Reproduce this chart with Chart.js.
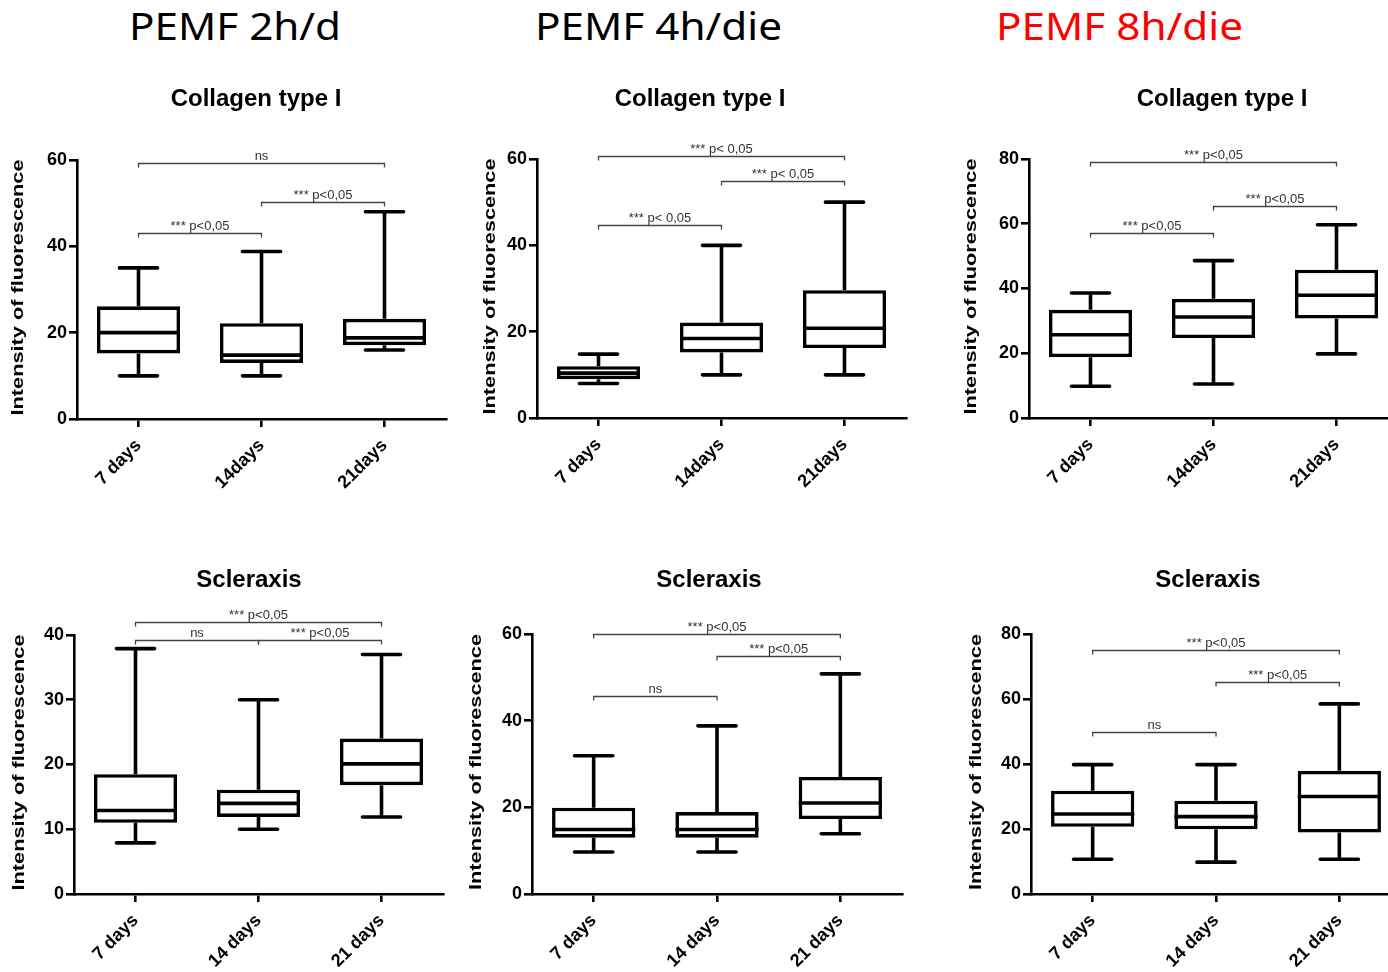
<!DOCTYPE html>
<html>
<head>
<meta charset="utf-8">
<title>PEMF box plots</title>
<script src="https://cdn.jsdelivr.net/npm/chart.js@4.4.0/dist/chart.umd.min.js"></script>
<style>
  html, body { margin: 0; padding: 0; background: #fff; overflow: hidden; }
  body { width: 1388px; height: 972px; position: relative; }
  canvas { position: absolute; }
  .head { position: absolute; top: 6px; font-family: 'Noto Sans', sans-serif; font-size: 38px;
          line-height: 38px; white-space: nowrap; color: #000; transform-origin: 0 0; }
</style>
</head>
<body>
<div class="head" id="h1" style="left:129px">PEMF 2h/d</div>
<div class="head" id="h2" style="left:535px">PEMF 4h/die</div>
<div class="head" id="h3" style="left:996px; color:#ff0000">PEMF 8h/die</div>

<canvas id="c1" width="460" height="440" style="left:0px;top:60px"></canvas>
<canvas id="c2" width="460" height="440" style="left:460px;top:60px"></canvas>
<canvas id="c3" width="500" height="440" style="left:920px;top:60px"></canvas>
<canvas id="c4" width="460" height="432" style="left:0px;top:540px"></canvas>
<canvas id="c5" width="460" height="432" style="left:460px;top:540px"></canvas>
<canvas id="c6" width="500" height="432" style="left:920px;top:540px"></canvas>

<script>
/* ================================================
   DATA
================================================ */
const daysA = ['7 days', '14days', '21days'];
const daysB = ['7 days', '14 days', '21 days'];

// Collagen type I — PEMF 2h/d
const col2hMin = [10, 10, 16];
const col2hQ1  = [15.2, 13, 17.1];
const col2hMed = [20, 14.8, 18.8];
const col2hQ3  = [26.1, 22.2, 23.2];
const col2hMax = [35, 38.8, 48];
const col2hSig = [
  { from: 0, to: 2, y: 59.4, label: 'ns' },
  { from: 0, to: 1, y: 43,   label: '*** p<0,05' },
  { from: 1, to: 2, y: 50.3, label: '*** p<0,05' },
];

// Collagen type I — PEMF 4h/die
const col4hMin = [8, 10, 10];
const col4hQ1  = [9, 15.2, 16.2];
const col4hMed = [10.4, 18.4, 20.8];
const col4hQ3  = [12, 22.1, 29.6];
const col4hMax = [14.8, 40, 50];
const col4hSig = [
  { from: 0, to: 2, y: 60.8, label: '*** p< 0,05' },
  { from: 1, to: 2, y: 55,   label: '*** p< 0,05' },
  { from: 0, to: 1, y: 44.8, label: '*** p< 0,05' },
];

// Collagen type I — PEMF 8h/die
const col8hMin = [9.8, 10.5, 19.8];
const col8hQ1  = [18.8, 24.7, 30.7];
const col8hMed = [25.7, 31.2, 37.9];
const col8hQ3  = [33.4, 36.8, 45.8];
const col8hMax = [38.6, 48.6, 59.7];
const col8hSig = [
  { from: 0, to: 2, y: 79.1, label: '*** p<0,05' },
  { from: 1, to: 2, y: 65.6, label: '*** p<0,05' },
  { from: 0, to: 1, y: 57.1, label: '*** p<0,05' },
];

// Scleraxis — PEMF 2h/d
const scx2hMin = [7.9, 10, 11.9];
const scx2hQ1  = [11, 11.9, 16.8];
const scx2hMed = [12.9, 14, 20.1];
const scx2hQ3  = [18.5, 16.1, 24];
const scx2hMax = [37.9, 30, 37];
const scx2hSig = [
  { from: 0, to: 2, y: 42,   label: '*** p<0,05' },
  { from: 0, to: 1, y: 39.2, label: 'ns' },
  { from: 1, to: 2, y: 39.2, label: '*** p<0,05' },
];

// Scleraxis — PEMF 4h/die
const scx4hMin = [9.7, 9.7, 13.9];
const scx4hQ1  = [13, 13, 17.3];
const scx4hMed = [14.9, 14.9, 21];
const scx4hQ3  = [19.9, 18.9, 27];
const scx4hMax = [31.9, 38.8, 50.8];
const scx4hSig = [
  { from: 0, to: 2, y: 60,   label: '*** p<0,05' },
  { from: 1, to: 2, y: 55,   label: '*** p<0,05' },
  { from: 0, to: 1, y: 45.7, label: 'ns' },
];

// Scleraxis — PEMF 8h/die
const scx8hMin = [10.7, 9.8, 10.7];
const scx8hQ1  = [20.7, 19.9, 18.9];
const scx8hMed = [24.6, 23.8, 30];
const scx8hQ3  = [31.8, 28.7, 37.9];
const scx8hMax = [39.8, 39.8, 58.5];
const scx8hSig = [
  { from: 0, to: 2, y: 75.2, label: '*** p<0,05' },
  { from: 1, to: 2, y: 65.3, label: '*** p<0,05' },
  { from: 0, to: 1, y: 49.7, label: 'ns' },
];

/* ================================================
   LAYOUT (page pixels)
================================================ */
const panels = [
  { canvas: 'c1', left: 0,   top: 60,  area: [77, 446, 160, 419],   yMax: 60, step: 20,
    title: 'Collagen type I', titleX: 256, titleY: 106, ylabX: 18.5,
    labels: daysA, min: col2hMin, q1: col2hQ1, med: col2hMed, q3: col2hQ3, max: col2hMax, sig: col2hSig },
  { canvas: 'c2', left: 460, top: 60,  area: [537, 906, 159, 418],  yMax: 60, step: 20,
    title: 'Collagen type I', titleX: 700, titleY: 106, ylabX: 490,
    labels: daysA, min: col4hMin, q1: col4hQ1, med: col4hMed, q3: col4hQ3, max: col4hMax, sig: col4hSig },
  { canvas: 'c3', left: 920, top: 60,  area: [1029, 1398, 159, 418], yMax: 80, step: 20,
    title: 'Collagen type I', titleX: 1222, titleY: 106, ylabX: 971,
    labels: daysA, min: col8hMin, q1: col8hQ1, med: col8hMed, q3: col8hQ3, max: col8hMax, sig: col8hSig },
  { canvas: 'c4', left: 0,   top: 540, area: [74, 443, 635, 894],   yMax: 40, step: 10,
    title: 'Scleraxis', titleX: 249, titleY: 587, ylabX: 19,
    labels: daysB, min: scx2hMin, q1: scx2hQ1, med: scx2hMed, q3: scx2hQ3, max: scx2hMax, sig: scx2hSig },
  { canvas: 'c5', left: 460, top: 540, area: [532, 902, 634, 894],  yMax: 60, step: 20,
    title: 'Scleraxis', titleX: 709, titleY: 587, ylabX: 476,
    labels: daysB, min: scx4hMin, q1: scx4hQ1, med: scx4hMed, q3: scx4hQ3, max: scx4hMax, sig: scx4hSig },
  { canvas: 'c6', left: 920, top: 540, area: [1031, 1401, 634, 894], yMax: 80, step: 20,
    title: 'Scleraxis', titleX: 1208, titleY: 587, ylabX: 976,
    labels: daysB, min: scx8hMin, q1: scx8hQ1, med: scx8hMed, q3: scx8hQ3, max: scx8hMax, sig: scx8hSig },
];

const FONT   = "'Liberation Sans', Arial, sans-serif";
const LW     = 3.6;   // box / whisker stroke
const AXIS_W = 2.6;
const Y_LABEL = 'Intensity of fluorescence';

/* ================================================
   BOX-PLOT PLUGIN
================================================ */
function boxPlugin(p) {
  return {
    id: 'box_' + p.canvas,
    beforeDatasetsDraw(chart) {
      const { ctx, scales: { x, y } } = chart;
      const capW = (x.getPixelForValue(1) - x.getPixelForValue(0)) * 0.31;
      ctx.save();
      ctx.strokeStyle = '#000';
      ctx.lineWidth = LW;
      p.labels.forEach((_, i) => {
        const xc = x.getPixelForValue(i);
        ctx.lineCap = 'butt';
        ctx.beginPath();
        ctx.moveTo(xc, y.getPixelForValue(p.q3[i]));
        ctx.lineTo(xc, y.getPixelForValue(p.max[i]));
        ctx.moveTo(xc, y.getPixelForValue(p.q1[i]));
        ctx.lineTo(xc, y.getPixelForValue(p.min[i]));
        ctx.stroke();
        ctx.lineCap = 'round';
        ctx.beginPath();
        [p.max[i], p.min[i]].forEach(v => {
          const yy = y.getPixelForValue(v);
          ctx.moveTo(xc - capW / 2, yy);
          ctx.lineTo(xc + capW / 2, yy);
        });
        ctx.stroke();
      });
      ctx.restore();
    },
    afterDatasetsDraw(chart) {
      const { ctx, scales: { y } } = chart;
      const meta = chart.getDatasetMeta(0);
      ctx.save();
      ctx.strokeStyle = '#000';
      ctx.lineWidth = LW;
      meta.data.forEach((bar, i) => {
        const yy = y.getPixelForValue(p.med[i]);
        ctx.beginPath();
        ctx.moveTo(bar.x - bar.width / 2, yy);
        ctx.lineTo(bar.x + bar.width / 2, yy);
        ctx.stroke();
      });
      ctx.restore();
    },
    afterDraw(chart) {
      const { ctx, chartArea, scales: { x, y } } = chart;
      ctx.save();

      // significance brackets
      ctx.strokeStyle = '#444';
      ctx.lineWidth = 1.3;
      ctx.fillStyle = '#333';
      ctx.font = '13px ' + FONT;
      ctx.textAlign = 'center';
      ctx.textBaseline = 'alphabetic';
      p.sig.forEach(b => {
        const x1 = x.getPixelForValue(b.from);
        const x2 = x.getPixelForValue(b.to);
        const yy = Math.round(y.getPixelForValue(b.y)) + 0.5;
        ctx.beginPath();
        ctx.moveTo(x1, yy + 4);
        ctx.lineTo(x1, yy);
        ctx.lineTo(x2, yy);
        ctx.lineTo(x2, yy + 4);
        ctx.stroke();
        ctx.fillText(b.label, (x1 + x2) / 2, yy - 4);
      });

      // panel title
      ctx.fillStyle = '#000';
      ctx.font = 'bold 24px ' + FONT;
      ctx.fillText(p.title, p.titleX - p.left, p.titleY - p.top);

      // y-axis label (narrow, tall lettering as in the original)
      ctx.font = 'bold 17px ' + FONT;
      const sx = 256 / ctx.measureText(Y_LABEL).width;
      ctx.translate(p.ylabX - p.left, (chartArea.top + chartArea.bottom) / 2 - 2);
      ctx.rotate(-Math.PI / 2);
      ctx.scale(sx, 1);
      ctx.textBaseline = 'middle';
      ctx.fillText(Y_LABEL, 0, 0);

      ctx.restore();
    },
  };
}

/* ================================================
   CHARTS
================================================ */
function buildPanel(p) {
  const cv = document.getElementById(p.canvas);
  const W = cv.width, H = cv.height;
  const [aL, aR, aT, aB] = p.area;
  const lL = aL - p.left, lR = aR - p.left, lT = aT - p.top, lB = aB - p.top;
  const tickFont = { family: FONT, size: 18, weight: 'bold' };
  const axisGrid = { offset: false, drawOnChartArea: false, drawTicks: true, tickLength: 8,
                     color: '#000', lineWidth: AXIS_W };
  const axisBorder = { display: true, color: '#000', width: AXIS_W };

  new Chart(cv, {
    type: 'bar',
    data: {
      labels: p.labels,
      datasets: [{
        data: p.q1.map((v, i) => [v, p.q3[i]]),
        backgroundColor: '#fff',
        borderColor: '#000',
        borderWidth: LW,
        borderSkipped: false,
        barPercentage: 0.675,
        categoryPercentage: 1,
      }],
    },
    options: {
      responsive: false,
      animation: false,
      events: [],
      layout: { padding: { left: 0, right: W - lR, top: lT, bottom: 0 } },
      plugins: { legend: { display: false }, tooltip: { enabled: false }, title: { display: false } },
      scales: {
        x: {
          grid: axisGrid,
          border: axisBorder,
          ticks: { autoSkip: false, maxRotation: 45, minRotation: 45, padding: 8, color: '#000', font: tickFont },
          afterFit: s => { s.height = H - lB; },
        },
        y: {
          min: 0,
          max: p.yMax,
          grid: axisGrid,
          border: axisBorder,
          ticks: { stepSize: p.step, padding: 2, color: '#000', font: tickFont },
          afterFit: s => { s.width = lL; },
        },
      },
    },
    plugins: [boxPlugin(p)],
  });
}

/* headers: widen the lettering to the original widths */
function fitHeader(id, width) {
  const el = document.getElementById(id);
  const natural = el.getBoundingClientRect().width;
  el.style.transform = 'scaleX(' + (width / natural) + ')';
}

fitHeader('h1', 212);
fitHeader('h2', 247);
fitHeader('h3', 247);
panels.forEach(buildPanel);
</script>
</body>
</html>
